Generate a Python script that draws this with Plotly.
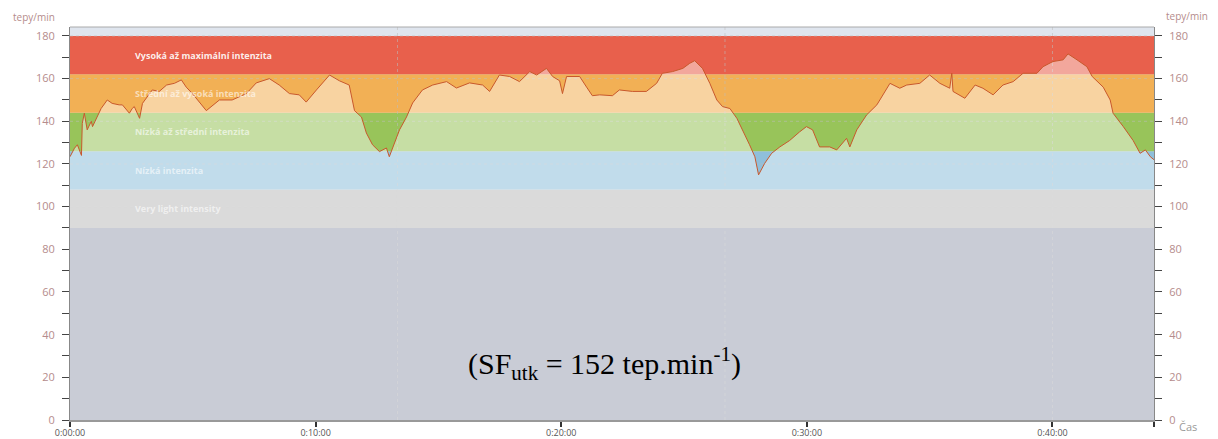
import plotly.graph_objects as go

# ---------------- DATA ----------------
time_s = [0, 11, 18, 28, 30, 35, 42, 52, 55, 64, 76, 91, 103, 120, 128, 145, 152, 157, 170, 177,
          189, 201, 218, 236, 255, 272, 284, 299, 333, 365, 396, 431, 455, 487, 511, 536, 560, 577,
          602, 634, 658, 682, 695, 712, 724, 739, 756, 773, 780, 793, 805, 822, 837, 861, 886, 920,
          944, 976, 1008, 1025, 1049, 1074, 1098, 1123, 1140, 1164, 1179, 1196, 1203, 1213, 1245,
          1262, 1276, 1294, 1325, 1342, 1374, 1408, 1433, 1447, 1472, 1497, 1514, 1526, 1545, 1563,
          1580, 1594, 1612, 1629, 1643, 1660, 1673, 1682, 1697, 1714, 1734, 1758, 1782, 1799, 1814,
          1831, 1856, 1873, 1897, 1905, 1922, 1946, 1971, 1985, 2003, 2027, 2044, 2076, 2100, 2125,
          2149, 2154, 2157, 2186, 2211, 2230, 2255, 2279, 2304, 2328, 2362, 2377, 2401, 2426, 2438,
          2460, 2484, 2497, 2524, 2541, 2548, 2573, 2597, 2614, 2627, 2639, 2648]
hr = [123.4, 127.4, 129, 124, 139, 143.8, 136, 140, 137.5, 141, 146, 150, 148.4, 147.7, 147.7, 143.8,
      146, 146.9, 141.4, 148.4, 151.6, 154.7, 154, 157, 157.8, 159.4, 156, 153, 145, 150, 150, 153,
      158, 160, 157, 153, 152.4, 149, 154.7, 161.7, 159, 157, 145, 142, 134.5, 129, 125.8, 127.5,
      123.4, 129.8, 136, 142, 148.6, 154.7, 157, 158.6, 155.6, 158, 157, 154, 161.7, 161, 158.6,
      163.3, 161.7, 164.8, 161, 159, 153, 161, 161, 156, 152, 152.4, 152, 154.7, 154, 154, 157.8,
      162.5, 163.3, 164.8, 167.2, 168.4, 164.8, 157.8, 150, 146.9, 146, 141.4, 136, 129, 123.4,
      114.9, 120.3, 125, 128, 131, 135, 137.5, 136, 128, 128, 126.6, 132, 128, 136, 143, 147.7,
      152.4, 157.8, 155.5, 157, 157.8, 161.7, 157.8, 155.5, 162.6, 154, 150.8, 157, 155.5, 152.4,
      157, 158.6, 162.5, 162.5, 165.6, 168, 168.8, 171.6, 168.8, 165.6, 161, 156, 150, 143.8,
      137.5, 131, 125, 126.6, 123.4, 122]

x_tick_seconds = [0, 600, 1200, 1800, 2400]
x_tick_labels = ["0:00:00", "0:10:00", "0:20:00", "0:30:00", "0:40:00"]
x_end_seconds = 2648

zone_bounds = [0, 90, 108, 126, 144, 162, 180]
zone_names = ["Very light intensity", "Nízká intenzita", "Nízká až střední intenzita",
              "Střední až vysoká intenzita", "Vysoká až maximální intenzita"]
sf_text = "(SF<sub>utk</sub> = 152 tep.min<sup>-1</sup>)"

# ---------------- STYLE ----------------
band_colors = ["#9da2b4", "#bcbcbc", "#8fbfdb", "#98c45a", "#f2b055", "#e8604c"]
top_color = "#dfe5ee"
line_color = "#c8582c"
label_color = "#b58c8c"
y_max = 184.2

fig = go.Figure()

shapes = []
for i, c in enumerate(band_colors):
    shapes.append(dict(type="rect", xref="paper", yref="y", x0=0, x1=1,
                       y0=zone_bounds[i], y1=zone_bounds[i + 1],
                       fillcolor=c, line=dict(width=0), layer="below"))
shapes.append(dict(type="rect", xref="paper", yref="y", x0=0, x1=1,
                   y0=zone_bounds[-1], y1=y_max, fillcolor=top_color,
                   line=dict(width=0), layer="below"))
# dotted grid
for gy in [100, 120, 140, 160, 180]:
    shapes.append(dict(type="line", xref="paper", yref="y", x0=0, x1=1, y0=gy, y1=gy,
                       line=dict(color="rgba(190,190,190,0.55)", width=1, dash="dot"),
                       layer="below"))
for gx in [800, 1600, 2400]:
    shapes.append(dict(type="line", xref="x", yref="paper", x0=gx, x1=gx, y0=0, y1=1,
                       line=dict(color="rgba(190,190,190,0.55)", width=1, dash="dot"),
                       layer="below"))
shapes.append(dict(type="line", xref="paper", yref="paper", x0=0, x1=1, y0=1, y1=1,
                   line=dict(color="#aaa", width=1)))

fig.add_trace(go.Scatter(x=time_s, y=hr, mode="lines", fill="tozeroy",
                         fillcolor="rgba(255,255,255,0.45)",
                         line=dict(color=line_color, width=1), hoverinfo="skip"))
fig.add_trace(go.Scatter(x=[0, x_end_seconds], y=[0, 0], yaxis="y2", mode="lines",
                         line=dict(width=0), hoverinfo="skip", showlegend=False))

annotations = []
for i, name in enumerate(zone_names):
    yc = (zone_bounds[i + 1] + zone_bounds[i + 2]) / 2
    annotations.append(dict(x=155, y=yc, xref="x", yref="y", text="<b>" + name + "</b>",
                            showarrow=False, xanchor="left", yanchor="middle",
                            font=dict(family="Open Sans", size=9,
                                      color="rgba(255,255,255,0.9)" if i == 4 else "rgba(255,255,255,0.6)")))
annotations.append(dict(x=1306, y=26.5, xref="x", yref="y", text=sf_text, showarrow=False,
                        xanchor="center", yanchor="middle",
                        font=dict(family="Liberation Serif", size=30, color="black")))
annotations.append(dict(x=-0.0544, y=1.0254, xref="paper", yref="paper", text="tepy/min",
                        showarrow=False, xanchor="left", yanchor="middle",
                        font=dict(family="Open Sans", size=10, color=label_color)))
annotations.append(dict(x=1.0517, y=1.028, xref="paper", yref="paper", text="tepy/min",
                        showarrow=False, xanchor="right", yanchor="middle",
                        font=dict(family="Open Sans", size=10, color=label_color)))
annotations.append(dict(x=1.0314, y=-0.0153, xref="paper", yref="paper", text="Čas",
                        showarrow=False, xanchor="center", yanchor="middle",
                        font=dict(family="Open Sans", size=11, color="#999999")))

yaxis_common = dict(range=[0, y_max], tickvals=list(range(0, 181, 20)),
                    ticks="outside", ticklen=7, tickcolor="#444", tickwidth=1,
                    tickfont=dict(family="Open Sans", size=11, color=label_color),
                    ticklabelstandoff=5,
                    showgrid=False, zeroline=False,
                    minor=dict(ticks="outside", tickvals=list(range(10, 180, 20)),
                               ticklen=7, tickcolor="#444", showgrid=False),
                    showline=True, linecolor="#888", linewidth=1, fixedrange=True,
                    automargin=False)

fig.update_layout(
    width=1210, height=431,
    margin=dict(l=62, r=64, t=19, b=19),
    paper_bgcolor="white", plot_bgcolor=top_color,
    showlegend=False,
    shapes=shapes, annotations=annotations,
    xaxis=dict(range=[0, x_end_seconds],
               tickvals=x_tick_seconds + [x_end_seconds],
               ticktext=x_tick_labels + [" "],
               ticks="outside", ticklen=5, tickcolor="#333", tickwidth=2,
               ticklabelstandoff=-2,
               tickfont=dict(family="Open Sans", size=9, color="#555"),
               showgrid=False, zeroline=False, showline=True, linecolor="#999",
               linewidth=2, mirror=False, automargin=False),
    yaxis=dict(side="left", **yaxis_common),
    yaxis2=dict(side="right", overlaying="y", **yaxis_common),
)

fig.write_html("out.html")
